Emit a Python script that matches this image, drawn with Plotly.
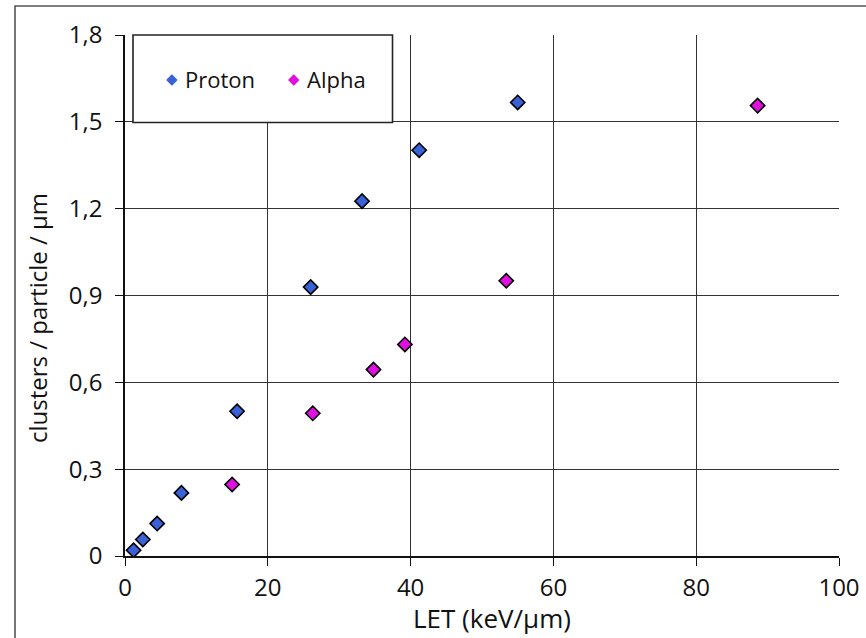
import plotly.graph_objects as go

# Data
proton_let = [1.2, 2.5, 4.5, 7.9, 15.7, 26.0, 33.2, 41.2, 55.0]
proton_clusters = [0.02, 0.057, 0.112, 0.218, 0.50, 0.929, 1.226, 1.402, 1.567]
alpha_let = [15.0, 26.3, 34.8, 39.2, 53.4, 88.6]
alpha_clusters = [0.247, 0.493, 0.644, 0.731, 0.951, 1.556]

series_names = ["Proton", "Alpha"]

x_ticks = [0, 20, 40, 60, 80, 100]
y_ticks = [0, 0.3, 0.6, 0.9, 1.2, 1.5, 1.8]
y_tick_labels = ["0", "0,3", "0,6", "0,9", "1,2", "1,5", "1,8"]

PROTON_COLOR = "#3a62d8"
ALPHA_COLOR = "#e010e0"
FONT = "Open Sans"
TXT = "#111111"

# plot-area geometry (pixels) used to place paper-referenced decorations
L, R, T, B = 125, 27, 35, 82
W, H = 866, 638
PW, PH = W - L - R, H - T - B


def px(xp):
    return (xp - L) / PW


def py(yp):
    return (H - B - yp) / PH


fig = go.Figure()

fig.add_trace(go.Scatter(
    x=proton_let, y=proton_clusters, mode="markers", name=series_names[0],
    marker=dict(symbol="diamond", size=11, color=PROTON_COLOR,
                line=dict(color="#000000", width=1.6)),
))
fig.add_trace(go.Scatter(
    x=alpha_let, y=alpha_clusters, mode="markers", name=series_names[1],
    marker=dict(symbol="diamond", size=11, color=ALPHA_COLOR,
                line=dict(color="#000000", width=1.6)),
))

axis_common = dict(
    showline=True, linecolor="#111111", linewidth=1.6, mirror=False,
    showgrid=True, gridcolor="#333333", gridwidth=1.3,
    ticks="outside", ticklen=8, tickwidth=1.4, tickcolor="#111111",
    zeroline=False, automargin=False,
    tickfont=dict(family=FONT, size=24, color=TXT),
)

fig.update_xaxes(
    range=[0, 100], tickmode="array", tickvals=x_ticks,
    ticklabelstandoff=1, **axis_common,
)
fig.update_yaxes(
    range=[0, 1.8], tickmode="array", tickvals=y_ticks, ticktext=y_tick_labels,
    ticklabelstandoff=8, **axis_common,
)

legend_items = [
    (series_names[0], PROTON_COLOR, 172, 183),
    (series_names[1], ALPHA_COLOR, 294, 305),
]
annotations = [
    dict(text="LET (keV/µm)", xref="paper", yref="paper",
         x=px(492), y=py(598), xanchor="center", yanchor="top",
         showarrow=False, font=dict(family=FONT, size=26, color=TXT)),
    dict(text="clusters / particle / µm", xref="paper", yref="paper",
         x=px(37), y=py(318), xanchor="center", yanchor="middle",
         textangle=-90, showarrow=False,
         font=dict(family=FONT, size=24, color=TXT)),
]
for name, color, mx, tx in legend_items:
    annotations.append(dict(
        text="◆", xref="paper", yref="paper", x=px(mx), y=py(79),
        xanchor="center", yanchor="middle", showarrow=False,
        font=dict(family="DejaVu Sans", size=15, color=color)))
    annotations.append(dict(
        text=name, xref="paper", yref="paper", x=px(tx), y=py(79),
        xanchor="left", yanchor="middle", showarrow=False,
        font=dict(family=FONT, size=22, color=TXT)))

fig.update_layout(
    width=W, height=H,
    margin=dict(l=L, r=R, t=T, b=B),
    paper_bgcolor="#ffffff", plot_bgcolor="#ffffff",
    font=dict(family=FONT, color=TXT),
    showlegend=False,
    shapes=[
        # legend box
        dict(type="rect", xref="paper", yref="paper",
             x0=px(133), x1=px(392.5), y0=py(122.5), y1=1.0,
             line=dict(color="#222222", width=1.6), fillcolor="#ffffff",
             layer="above"),
        # outer frame of the figure (right/bottom edges fall outside the view)
        dict(type="rect", xref="paper", yref="paper",
             x0=px(15), x1=px(900), y0=py(700), y1=py(6),
             line=dict(color="#555555", width=1.6), fillcolor="rgba(0,0,0,0)",
             layer="below"),
    ],
    annotations=annotations,
)

fig.write_html("out.html")
